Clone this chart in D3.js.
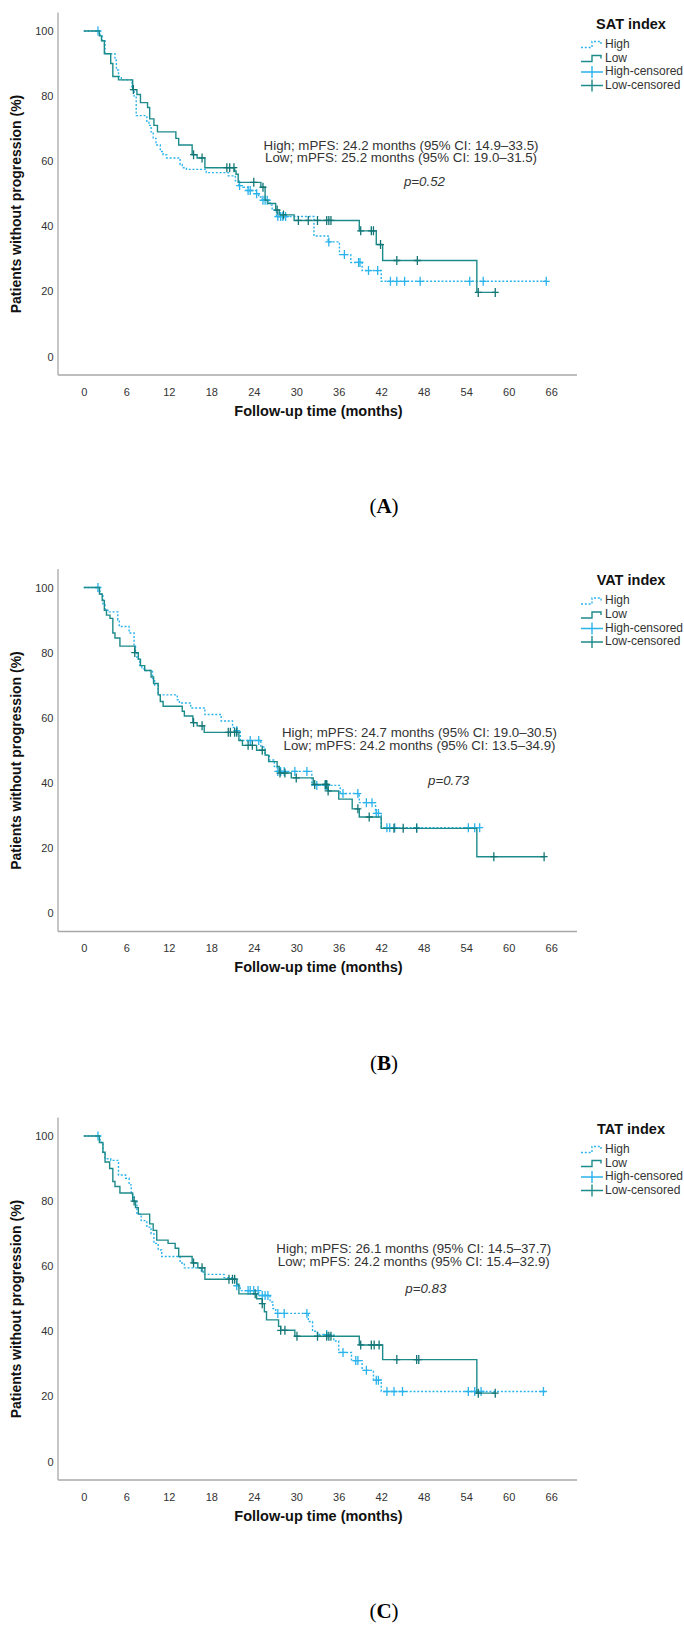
<!DOCTYPE html>
<html>
<head>
<meta charset="utf-8">
<script src="https://cdn.jsdelivr.net/npm/d3@7"></script>
<style>
  body { margin: 0; background: #fff; }
  svg { display: block; font-family: "Liberation Sans", Arial, sans-serif; }
</style>
</head>
<body>
<svg id="fig" width="684" height="1626"></svg>
<script>
// ---- data ----
const xTicks = [0, 6, 12, 18, 24, 30, 36, 42, 48, 54, 60, 66];
const yTicks = [0, 20, 40, 60, 80, 100];
const groupNames = ["High", "Low", "High-censored", "Low-censored"];
const panelTitles = ["SAT index", "VAT index", "TAT index"];
const panelLetters = ["A", "B", "C"];

// [month, % without progression] : value that starts at that month
const satHigh = [[0,100],[2.3,98.5],[2.6,97],[3.0,93],[4.4,91],[4.6,88],[4.9,86],[5.3,85],[6.8,82],[7.1,80],[7.4,74],[8.9,72],[9.2,71],[9.5,69],[9.8,67],[10.2,65],[10.8,63],[11.2,62],[11.7,61],[13.6,59],[13.9,58],[14.5,57.5],[17.3,56.5],[20.4,55.5],[21.4,54],[21.9,52.5],[22.5,52],[23.2,51],[24.4,50],[24.7,49],[25.2,48],[26.3,46.5],[26.6,45],[27.2,43],[32.5,37],[34.5,35.2],[36.1,31.3],[37.7,28.9],[39.3,26.4],[42.0,23.1]];
const satHighEnd = 65.3;
const satHighCens = [2.0,22.0,23.2,23.5,24.4,25.3,25.6,25.9,27.4,27.8,28.1,28.5,34.6,36.8,38.8,39.0,40.2,41.5,43.3,44.2,45.3,47.5,54.5,56.4,65.3];
const satLow = [[0,100],[2.2,98.5],[2.5,97],[2.9,93],[3.8,90],[4.1,86],[4.9,85],[6.9,82],[7.5,80.5],[8.0,78],[9.0,76.5],[9.3,73],[9.9,71],[10.4,69],[13.0,67],[13.4,65],[15.3,62],[16.0,61],[17.1,58],[21.3,57],[21.5,56],[21.8,53.5],[25.0,52],[25.6,48],[26.0,47],[27.1,45],[27.6,43.5],[29.7,41.8],[38.9,38.6],[41.3,34.4],[42.2,29.5],[55.5,19.7]];
const satLowEnd = 58.1;
const satLowCens = [7.0,15.5,16.7,20.2,20.6,21.2,24.0,25.3,27.3,28.2,30.3,31.7,33.0,34.3,34.6,34.9,39.1,40.6,40.9,41.9,44.2,47.1,55.7,58.1];

const vatHigh = [[0,100],[2.3,98],[2.7,95],[3.0,93],[3.6,92.5],[4.8,90],[5.0,88],[6.4,86],[7.1,82],[7.3,80],[7.5,78],[7.9,76],[8.2,75],[8.6,74.5],[9.7,72],[10.0,70],[10.5,67],[13.2,65.5],[13.5,64.5],[15.1,63],[17.1,61],[19.4,59],[21.0,57],[21.6,56],[22.1,53],[25.0,51],[25.6,48.5],[26.2,47],[26.9,45],[27.3,43.5],[32.2,39.2],[36.2,36.7],[38.9,33.9],[41.2,30.6],[42.0,26.2]];
const vatHighEnd = 55.9;
const vatHighCens = [2.0,21.6,23.5,24.7,27.4,27.8,28.3,29.8,31.5,32.9,34.1,34.3,36.6,38.7,39.9,40.7,41.3,41.6,42.8,43.2,43.9,47.0,54.3,55.2,55.9];
const vatLow = [[0,100],[2.2,98],[2.6,96],[2.9,93],[3.2,91.5],[3.7,90.5],[4.1,86],[4.4,84.5],[5.1,82],[7.2,80],[7.7,78],[8.0,76],[8.6,74.5],[9.5,72.5],[9.85,70.5],[10.5,67],[10.8,65],[11.2,63.5],[13.9,62],[14.2,60.5],[15.4,58.5],[16.0,57.5],[17.0,55.5],[21.9,53],[22.4,51.5],[24.4,50],[25.6,48.5],[26.1,46.5],[27.3,45],[27.6,43],[29.3,41.5],[32.4,39.5],[34.5,37.5],[36.0,35],[37.9,32],[38.9,29.5],[42.0,26],[55.5,17.3]];
const vatLowEnd = 65.1;
const vatLowCens = [7.2,15.5,16.7,20.4,20.7,21.3,21.6,23.2,23.8,25.2,27.7,28.4,30.0,32.6,34.1,34.3,34.5,38.7,40.3,43.8,45.1,47.0,57.9,65.0];

const tatHigh = [[0,100],[2.3,98],[2.7,95],[3.0,93],[3.8,92.5],[4.9,88],[5.9,87],[6.4,85],[6.7,82],[7.1,80],[7.5,76],[8.1,74],[8.9,72],[9.5,70],[9.9,67],[10.5,65],[11.0,63],[13.6,61],[14.2,59.5],[16.6,58.5],[16.9,57.5],[19.8,56.5],[21.3,56],[21.6,54],[22.1,52.5],[24.7,51],[26.3,49],[26.7,47],[27.1,45.5],[31.7,43],[32.3,40],[33.0,39],[35.3,37],[36.0,33.5],[37.8,31],[39.3,28],[40.9,25],[42.0,21.5]];
const tatHighEnd = 65.3;
const tatHighCens = [2.0,21.6,23.2,23.5,24.0,24.6,25.2,25.6,26.0,27.4,28.3,31.5,34.3,36.6,38.4,38.7,39.9,41.3,41.6,42.8,43.8,45.0,54.3,55.2,56.1,64.9];
const tatLow = [[0,100],[2.2,98],[2.7,95],[3.0,92],[3.65,90],[4.1,86],[4.4,84.5],[5.1,82.5],[6.9,80],[7.3,78],[7.7,76],[9.3,73],[9.8,71],[10.3,68],[11.9,67],[12.9,65.5],[13.4,63],[15.3,61],[16.1,59.5],[17.1,56],[21.6,54.5],[21.9,51.5],[24.4,50],[25.2,48.5],[25.5,46],[25.8,43.5],[27.5,41.5],[27.8,40.3],[29.8,38.5],[38.9,35.8],[42.2,31.3],[55.5,21]];
const tatLowEnd = 58.1;
const tatLowCens = [7.1,15.5,16.7,20.5,21.0,21.3,24.2,25.2,27.8,28.4,30.1,33.0,34.3,34.6,34.9,39.1,40.6,41.0,41.7,44.2,47.0,47.3,55.7,58.1];

const mpfsHigh = ["High; mPFS: 24.2 months (95% CI: 14.9–33.5)", "High; mPFS: 24.7 months (95% CI: 19.0–30.5)", "High; mPFS: 26.1 months (95% CI: 14.5–37.7)"];
const mpfsLow = ["Low; mPFS: 25.2 months (95% CI: 19.0–31.5)", "Low; mPFS: 24.2 months (95% CI: 13.5–34.9)", "Low; mPFS: 24.2 months (95% CI: 15.4–32.9)"];
const pValues = ["p=0.52", "p=0.73", "p=0.83"];

// ---- layout (pixels / data-unit anchors), kept apart from the data ----
const panelTop = [0, 556.5, 1105];
const noteAt = [   // [month of text centre, % of line 1, % of line 2, month of p, % of p]
  [44.8, 64.6, 60.8, 48.1, 53.4],
  [47.4, 55.0, 51.3, 51.5, 40.4],
  [46.6, 65.0, 61.1, 48.3, 52.9]
];
const colHigh = "#2bb3ec", colLow = "#1e8b8b", colLowMark = "#137676";

const svg = d3.select("#fig");
const x = d3.scaleLinear().domain([0, 66]).range([83.8, 551.2]);
const y = d3.scaleLinear().domain([0, 100]).range([356.5, 31]);

function survAt(steps, t) {
  const i = d3.bisector(d => d[0]).right(steps, t) - 1;
  return steps[Math.max(i, 0)][1];
}

const stepLine = d3.line()
  .x(d => x(d[0]))
  .y(d => y(d[1]))
  .curve(d3.curveStepAfter);

function drawCurve(g, steps, end, cens, colour, markColour, dashed) {
  const pts = steps.concat([[end, steps[steps.length - 1][1]]]);
  g.append("path")
    .attr("d", stepLine(pts))
    .attr("fill", "none")
    .attr("stroke", colour)
    .attr("stroke-width", 1.4)
    .attr("stroke-dasharray", dashed ? "2,1.8" : null);
  g.selectAll(null)
    .data(cens)
    .enter()
    .append("path")
    .attr("d", t => {
      const cx = x(t), cy = y(survAt(steps, t));
      return `M${cx - 3.5},${cy}H${cx + 3.5}M${cx},${cy - 4.5}V${cy + 4.5}`;
    })
    .attr("stroke", markColour)
    .attr("stroke-width", 1.3)
    .attr("fill", "none");
}

function drawPanel(i, high, highEnd, highCens, low, lowEnd, lowCens) {
  const g = svg.append("g").attr("transform", `translate(0,${panelTop[i]})`);

  // frame lines (slightly beyond the scale range, as in SPSS output)
  g.append("line")
    .attr("x1", 58).attr("x2", 58).attr("y1", 12.5).attr("y2", 375)
    .attr("stroke", "#a8a8a8").attr("stroke-width", 1.3);
  g.append("line")
    .attr("x1", 58).attr("x2", 577).attr("y1", 375).attr("y2", 375)
    .attr("stroke", "#a8a8a8").attr("stroke-width", 1.3);

  const yAxis = g.append("g")
    .attr("transform", "translate(58,0)")
    .call(d3.axisLeft(y).tickValues(yTicks).tickSize(0).tickPadding(4.5));
  const xAxis = g.append("g")
    .attr("transform", "translate(0,375)")
    .call(d3.axisBottom(x).tickValues(xTicks).tickSize(0).tickPadding(13));
  [yAxis, xAxis].forEach(a => {
    a.select(".domain").remove();
    a.selectAll("text")
      .attr("fill", "#333")
      .style("font-family", "'Liberation Sans Narrow', 'Liberation Sans', sans-serif")
      .style("font-size", "11px");
  });

  g.append("text")
    .attr("transform", "translate(17,204) rotate(-90)")
    .attr("text-anchor", "middle")
    .attr("dominant-baseline", "middle")
    .attr("font-weight", "bold")
    .attr("font-size", 14)
    .attr("fill", "#111")
    .text("Patients without progression (%)");

  g.append("text")
    .attr("x", 318.5).attr("y", 412)
    .attr("text-anchor", "middle")
    .attr("dominant-baseline", "middle")
    .attr("font-weight", "bold")
    .attr("font-size", 14.5)
    .attr("fill", "#111")
    .text("Follow-up time (months)");

  drawCurve(g, high, highEnd, highCens, colHigh, colHigh, true);
  drawCurve(g, low, lowEnd, lowCens, colLow, colLowMark, false);

  // annotation
  const n = noteAt[i];
  const note = g.append("g").attr("font-size", 13.3).attr("fill", "#333").attr("text-anchor", "middle");
  note.append("text").attr("x", x(n[0])).attr("y", y(n[1])).attr("dominant-baseline", "middle").text(mpfsHigh[i]);
  note.append("text").attr("x", x(n[0])).attr("y", y(n[2])).attr("dominant-baseline", "middle").text(mpfsLow[i]);
  note.append("text").attr("x", x(n[3])).attr("y", y(n[4])).attr("dominant-baseline", "middle")
    .attr("font-style", "italic").text(pValues[i]);

  // legend
  const leg = g.append("g");
  leg.append("text")
    .attr("x", 631).attr("y", 25)
    .attr("text-anchor", "middle").attr("dominant-baseline", "middle")
    .attr("font-weight", "bold").attr("font-size", 14.5).attr("fill", "#111")
    .text(panelTitles[i]);
  const legY = [44.5, 58.5, 72, 85.5];
  const items = leg.selectAll("g.item")
    .data(groupNames)
    .enter()
    .append("g")
    .attr("class", "item")
    .attr("transform", (d, k) => `translate(0,${legY[k]})`);
  items.append("path")
    .attr("d", (d, k) => k < 2 ? "M581,3H592V-3H601V0" : "M581,0H603M592,-6V6")
    .attr("fill", "none")
    .attr("stroke", (d, k) => k % 2 === 0 ? colHigh : colLow)
    .attr("stroke-width", 1.4)
    .attr("stroke-dasharray", (d, k) => k === 0 ? "2,1.8" : null);
  items.append("text")
    .attr("x", 605).attr("y", 0)
    .attr("dominant-baseline", "middle")
    .attr("font-size", 12).attr("fill", "#333")
    .text(d => d);

  // panel letter
  const lab = g.append("text")
    .attr("x", 384).attr("y", 508)
    .attr("text-anchor", "middle").attr("dominant-baseline", "middle")
    .style("font-family", "'Liberation Serif', 'Times New Roman', serif")
    .attr("font-size", 21).attr("fill", "#000");
  lab.append("tspan").text("(");
  lab.append("tspan").attr("font-weight", "bold").text(panelLetters[i]);
  lab.append("tspan").text(")");
}

drawPanel(0, satHigh, satHighEnd, satHighCens, satLow, satLowEnd, satLowCens);
drawPanel(1, vatHigh, vatHighEnd, vatHighCens, vatLow, vatLowEnd, vatLowCens);
drawPanel(2, tatHigh, tatHighEnd, tatHighCens, tatLow, tatLowEnd, tatLowCens);
</script>
</body>
</html>
